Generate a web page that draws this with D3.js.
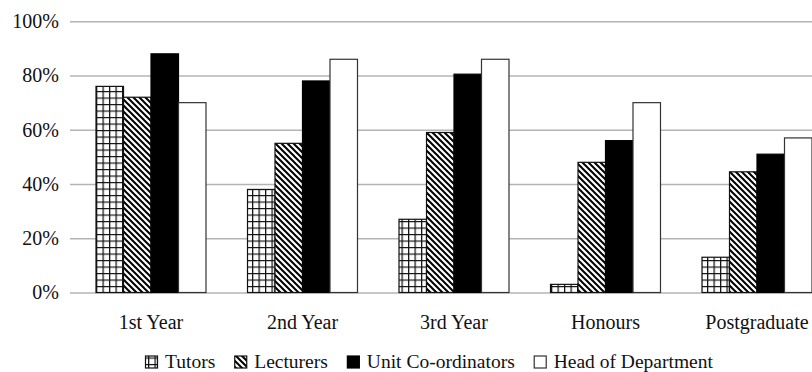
<!DOCTYPE html>
<html>
<head>
<meta charset="utf-8">
<script src="https://cdn.jsdelivr.net/npm/d3@7"></script>
<style>
  html, body { margin: 0; padding: 0; background: #fff; }
  svg { display: block; }
  text { font-family: "Liberation Serif", "Times New Roman", serif; fill: #111; }
</style>
</head>
<body>
<svg id="chart" width="812" height="372" font-family="Liberation Serif, serif"></svg>
<script>
const categories = ["1st Year", "2nd Year", "3rd Year", "Honours", "Postgraduate"];
const seriesNames = ["Tutors", "Lecturers", "Unit Co-ordinators", "Head of Department"];
const tutors = [76, 38, 27, 3, 13];
const lecturers = [72, 55, 59, 48, 44.5];
const unitCoordinators = [88, 78, 80.5, 56, 51];
const headOfDepartment = [70, 86, 86, 70, 57];
const yTicks = [0, 20, 40, 60, 80, 100];

(function () {
const seriesValues = [tutors, lecturers, unitCoordinators, headOfDepartment];
const fills = ["url(#grid)", "url(#diag)", "#000", "#fff"];
const strokes = ["#111", "#111", "#000", "#333"];
const serif = "Liberation Serif, Times New Roman, serif";

const svg = d3.select("#chart");
const defs = svg.append("defs");

// grid pattern (Tutors)
const pg = defs.append("pattern").attr("id", "grid").attr("patternUnits", "userSpaceOnUse")
  .attr("width", 6.5).attr("height", 6.5).attr("x", 96).attr("y", 0);
pg.append("rect").attr("width", 6.5).attr("height", 6.5).attr("fill", "#fff");
pg.append("path").attr("d", "M0,0.6H6.5M0.6,0V6.5").attr("stroke", "#111").attr("stroke-width", 1.3).attr("fill", "none");

// diagonal pattern (Lecturers)
const pd = defs.append("pattern").attr("id", "diag").attr("patternUnits", "userSpaceOnUse")
  .attr("width", 6).attr("height", 6);
pd.append("rect").attr("width", 6).attr("height", 6).attr("fill", "#fff");
pd.append("path").attr("d", "M-1,-1L7,7M-4,2L2,8M4,-2L10,4").attr("stroke", "#000").attr("stroke-width", 2).attr("fill", "none");

const mLeft = 70, mRight = 812, mTop = 21.3, mBottom = 292.5;

const y = d3.scaleLinear().domain([0, 100]).range([mBottom, mTop]);
const x = d3.scaleBand().domain(categories).range([75.25, 832.75]).paddingInner(0.274).paddingOuter(0.137);
const xs = d3.scaleBand().domain(seriesNames).range([0, x.bandwidth()]);

// gridlines + y labels
const yAxis = d3.axisLeft(y).tickValues(yTicks).tickSize(-(mRight - mLeft)).tickPadding(11)
  .tickFormat(d => d + "%");
const ga = svg.append("g").attr("transform", `translate(${mLeft},0)`).call(yAxis);
ga.attr("font-family", serif);
ga.select(".domain").remove();
ga.selectAll(".tick line").attr("stroke", "#b4b4b4").attr("stroke-width", 1.4);
ga.selectAll(".tick text").attr("font-size", 20).attr("font-family", serif).attr("fill", "#111");

// bars
seriesNames.forEach((s, si) => {
  svg.append("g").selectAll("rect").data(categories).join("rect")
    .attr("x", c => x(c) + xs(s))
    .attr("y", (c, i) => y(seriesValues[si][i]))
    .attr("width", xs.bandwidth())
    .attr("height", (c, i) => y(0) - y(seriesValues[si][i]))
    .attr("fill", fills[si])
    .attr("stroke", strokes[si])
    .attr("stroke-width", 1.2);
});

// x labels
svg.append("g").selectAll("text").data(categories).join("text")
  .attr("x", c => x(c) + x.bandwidth() / 2)
  .attr("y", 329)
  .attr("text-anchor", "middle")
  .attr("font-family", serif)
  .attr("font-size", 20)
  .text(c => c);

// legend
const lg = svg.append("g");
let lx = 145;
seriesNames.forEach((s, si) => {
  lg.append("rect").attr("x", lx + 0.5).attr("y", 356).attr("width", 12).attr("height", 12)
    .attr("fill", fills[si]).attr("stroke", strokes[si]).attr("stroke-width", 1.2);
  const t = lg.append("text").attr("x", lx + 20).attr("y", 367.5)
    .attr("font-family", serif).attr("font-size", 19.5).text(s);
  lx += 20 + t.node().getComputedTextLength() + 19;
});
})();
</script>
</body>
</html>
